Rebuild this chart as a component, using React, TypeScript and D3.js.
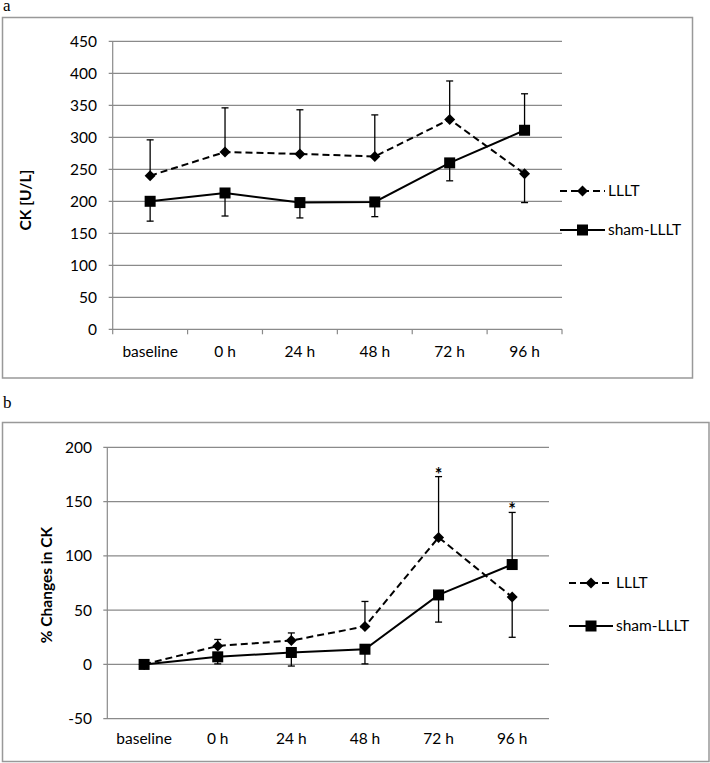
import React from "react";
import * as d3 from "d3";

const categories = ["baseline", "0 h", "24 h", "48 h", "72 h", "96 h"];

// Panel a: CK [U/L]
const ckTicks = [0, 50, 100, 150, 200, 250, 300, 350, 400, 450];
const ckLLLT = [240, 277, 274, 270, 328, 243];
const ckLLLTErrEnd = [296, 346, 343, 335, 388, 198];
const ckSham = [200, 213, 198, 199, 260, 311];
const ckShamErrEnd = [169, 177, 174, 176, 232, 368];

// Panel b: % Changes in CK
const pctTicks = [-50, 0, 50, 100, 150, 200];
const pctLLLT = [0, 17, 22, 35, 117, 62];
const pctLLLTErrEnd: (number | null)[] = [null, 23, 29, 58, 173, 25];
const pctSham = [0, 7, 11, 14, 64, 92];
const pctShamErrEnd: (number | null)[] = [null, 0.5, -1.5, 0.5, 39, 140];
const pctStars = ["72 h", "96 h"];

const seriesNames = ["LLLT", "sham-LLLT"];

const FONT = "Lato, 'Open Sans', sans-serif";
const FS = 15.5;
const GRID = "#8a8a8a";
const FRAME = "#999999";

type PanelProps = {
  frame: { x: number; y: number; w: number; h: number };
  letter: { x: number; y: number; t: string };
  xRange: [number, number];
  yDomain: [number, number];
  yRange: [number, number];
  ticks: number[];
  bottomTicks: boolean;
  labelRight: number;
  xLabelY: number;
  title: string;
  titlePos: [number, number];
  lllt: number[];
  llltErr: (number | null)[];
  sham: number[];
  shamErr: (number | null)[];
  stars?: string[];
  legend: { x0: number; x1: number; y0: number; y1: number };
};

function Diamond({ x, y, r = 5.5 }: { x: number; y: number; r?: number }) {
  return (
    <path
      d={`M${x},${y - r}L${x + r},${y}L${x},${y + r}L${x - r},${y}Z`}
      fill="#000"
    />
  );
}
function Square({ x, y, s = 11 }: { x: number; y: number; s?: number }) {
  return <rect x={x - s / 2} y={y - s / 2} width={s} height={s} fill="#000" />;
}

function Panel(p: PanelProps) {
  const x = d3.scaleBand<string>().domain(categories).range(p.xRange);
  const y = d3.scaleLinear().domain(p.yDomain).range(p.yRange);
  const cx = (c: string) => (x(c) as number) + x.bandwidth() / 2;
  const line = d3
    .line<number>()
    .x((_, i) => cx(categories[i]))
    .y((d) => y(d));
  const yBottom = y(p.yDomain[0]);
  const cap = 3.5;

  return (
    <g>
      <text x={p.letter.x} y={p.letter.y} fontFamily="'Liberation Serif', 'Times New Roman', serif" fontSize={17}>
        {p.letter.t}
      </text>
      <rect
        x={p.frame.x}
        y={p.frame.y}
        width={p.frame.w}
        height={p.frame.h}
        fill="#fff"
        stroke={FRAME}
        strokeWidth={1.5}
      />
      {/* gridlines */}
      {p.ticks.map((t) => (
        <g key={t}>
          <line x1={p.xRange[0] - 4} x2={p.xRange[1]} y1={y(t)} y2={y(t)} stroke={GRID} strokeWidth={1.2} />
          <text
            x={p.labelRight}
            y={y(t)}
            dy="0.35em"
            textAnchor="end"
            fontFamily={FONT}
            fontSize={FS}
            fill="#000"
          >
            {t}
          </text>
        </g>
      ))}
      {/* y axis */}
      <line x1={p.xRange[0]} x2={p.xRange[0]} y1={y(p.yDomain[1])} y2={yBottom} stroke={GRID} strokeWidth={1.2} />
      {p.bottomTicks &&
        [...categories.map((c) => x(c) as number), p.xRange[1]].map((xx, i) => (
          <line key={i} x1={xx} x2={xx} y1={yBottom} y2={yBottom + 5} stroke={GRID} strokeWidth={1.2} />
        ))}
      {categories.map((c) => (
        <text key={c} x={cx(c)} y={p.xLabelY} textAnchor="middle" fontFamily={FONT} fontSize={FS} fill="#000">
          {c}
        </text>
      ))}
      <text
        transform={`translate(${p.titlePos[0]},${p.titlePos[1]}) rotate(-90)`}
        textAnchor="middle"
        dy="0.35em"
        fontFamily={FONT}
        fontWeight="bold"
        fontSize={FS}
        fill="#000"
      >
        {p.title}
      </text>
      {/* error bars */}
      {categories.map((c, i) => {
        const e1 = p.llltErr[i];
        const e2 = p.shamErr[i];
        return (
          <g key={c} stroke="#000" strokeWidth={1.3}>
            {e1 != null && (
              <>
                <line x1={cx(c)} x2={cx(c)} y1={y(p.lllt[i])} y2={y(e1)} />
                <line x1={cx(c) - cap} x2={cx(c) + cap} y1={y(e1)} y2={y(e1)} />
              </>
            )}
            {e2 != null && (
              <>
                <line x1={cx(c)} x2={cx(c)} y1={y(p.sham[i])} y2={y(e2)} />
                <line x1={cx(c) - cap} x2={cx(c) + cap} y1={y(e2)} y2={y(e2)} />
              </>
            )}
          </g>
        );
      })}
      {/* lines */}
      <path d={line(p.lllt) || ""} fill="none" stroke="#000" strokeWidth={2} strokeDasharray="7,4" />
      <path d={line(p.sham) || ""} fill="none" stroke="#000" strokeWidth={2} />
      {categories.map((c, i) => (
        <g key={c}>
          <Diamond x={cx(c)} y={y(p.lllt[i])} />
          <Square x={cx(c)} y={y(p.sham[i])} />
        </g>
      ))}
      {p.stars &&
        p.stars.map((c) => {
          const i = categories.indexOf(c);
          const top = Math.max(p.llltErr[i] ?? -1e9, p.shamErr[i] ?? -1e9, p.lllt[i], p.sham[i]);
          return (
            <text key={c} x={cx(c)} y={y(top) + 4} textAnchor="middle" fontFamily={FONT} fontWeight="bold" fontSize={18} fill="#000">
              *
            </text>
          );
        })}
      {/* legend */}
      <g>
        <line
          x1={p.legend.x0}
          x2={p.legend.x1}
          y1={p.legend.y0}
          y2={p.legend.y0}
          stroke="#000"
          strokeWidth={2}
          strokeDasharray="7,4"
        />
        <Diamond x={(p.legend.x0 + p.legend.x1) / 2} y={p.legend.y0} />
        <text x={p.legend.x1 + 3} y={p.legend.y0} dy="0.35em" fontFamily={FONT} fontSize={FS} fill="#000">
          {seriesNames[0]}
        </text>
        <line x1={p.legend.x0} x2={p.legend.x1} y1={p.legend.y1} y2={p.legend.y1} stroke="#000" strokeWidth={2} />
        <Square x={(p.legend.x0 + p.legend.x1) / 2} y={p.legend.y1} />
        <text x={p.legend.x1 + 3} y={p.legend.y1} dy="0.35em" fontFamily={FONT} fontSize={FS} fill="#000">
          {seriesNames[1]}
        </text>
      </g>
    </g>
  );
}

export default function App() {
  return (
    <svg
      width={710}
      height={763}
      style={{ position: "absolute", left: 0, top: 0, background: "#fff" }}
    >
      <rect x={0} y={0} width={710} height={763} fill="#fff" />
      <Panel
        frame={{ x: 2.5, y: 17.5, w: 690, h: 360.5 }}
        letter={{ x: 3, y: 11, t: "a" }}
        xRange={[112.7, 562]}
        yDomain={[0, 450]}
        yRange={[329.3, 41.3]}
        ticks={ckTicks}
        bottomTicks={true}
        labelRight={97}
        xLabelY={357}
        title="CK [U/L]"
        titlePos={[26, 200]}
        lllt={ckLLLT}
        llltErr={ckLLLTErrEnd}
        sham={ckSham}
        shamErr={ckShamErrEnd}
        legend={{ x0: 560, x1: 605, y0: 191, y1: 230 }}
      />
      <Panel
        frame={{ x: 2.5, y: 422.5, w: 706.5, h: 339 }}
        letter={{ x: 3, y: 408, t: "b" }}
        xRange={[107.3, 549]}
        yDomain={[-50, 200]}
        yRange={[718.7, 447.3]}
        ticks={pctTicks}
        bottomTicks={false}
        labelRight={92}
        xLabelY={744}
        title="% Changes in CK"
        titlePos={[46.5, 585]}
        lllt={pctLLLT}
        llltErr={pctLLLTErrEnd}
        sham={pctSham}
        shamErr={pctShamErrEnd}
        stars={pctStars}
        legend={{ x0: 569, x1: 613, y0: 583, y1: 626 }}
      />
    </svg>
  );
}
